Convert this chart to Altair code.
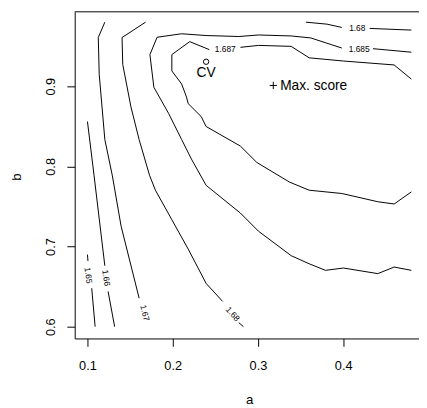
import altair as alt
import pandas as pd

# ---- contour segments (a, b), broken where the level labels sit ----
c165_s1_a = [0.100, 0.1006]
c165_s1_b = [0.690, 0.682]
c165_s2_a = [0.105, 0.109]
c165_s2_b = [0.648, 0.600]

c166_s1_a = [0.100, 0.1077, 0.1204]
c166_s1_b = [0.856, 0.789, 0.676]
c166_s2_a = [0.1242, 0.1319]
c166_s2_b = [0.644, 0.600]

c167_a = [0.1204, 0.1127, 0.1138, 0.1204, 0.1291, 0.1395, 0.1606]
c167_b = [0.980, 0.9608, 0.915, 0.8335, 0.789, 0.7253, 0.6356]

c168_s1_a = [0.1682, 0.1406, 0.1414, 0.151, 0.1606, 0.1728, 0.1797, 0.199, 0.2182, 0.2392, 0.2585]
c168_s1_b = [0.980, 0.9608, 0.9273, 0.8743, 0.8335, 0.789, 0.7703, 0.7335, 0.6968, 0.654, 0.6316]
c168_s2_a = [0.2776, 0.283]
c168_s2_b = [0.605, 0.600]
c168_top1_a = [0.3563, 0.3811, 0.3984]
c168_top1_b = [0.980, 0.9775, 0.9734]
c168_top2_a = [0.4311, 0.480]
c168_top2_b = [0.9722, 0.9701]

c1685_s1_a = [0.480, 0.4349]
c1685_s1_b = [0.9425, 0.9469]
c1685_s2_a = [0.3984, 0.362, 0.339, 0.3006, 0.2776, 0.2392, 0.2105, 0.1817, 0.1733, 0.1779,
              0.1952, 0.2105, 0.222, 0.2392, 0.2795, 0.3006, 0.339, 0.3601, 0.3793, 0.4003,
              0.4406, 0.4598, 0.480]
c1685_s2_b = [0.9477, 0.9603, 0.9628, 0.964, 0.9621, 0.9633, 0.9655, 0.9612, 0.9395, 0.8988,
              0.8661, 0.8335, 0.8091, 0.7764, 0.7417, 0.7192, 0.6886, 0.6785, 0.6703, 0.6732,
              0.6662, 0.6744, 0.6703]

c1687_s1_a = [0.480, 0.4598, 0.4003, 0.3601, 0.339, 0.3006, 0.2795]
c1687_s1_b = [0.9089, 0.9266, 0.9315, 0.9355, 0.9498, 0.951, 0.9486]
c1687_s2_a = [0.2430, 0.220, 0.199, 0.199, 0.2105, 0.2162, 0.2182, 0.2335, 0.2392, 0.2795,
              0.2987, 0.3371, 0.3601, 0.3984, 0.4406, 0.4598, 0.480]
c1687_s2_b = [0.9457, 0.9557, 0.9395, 0.9192, 0.9028, 0.8865, 0.8783, 0.8621, 0.8498, 0.8253,
              0.8049, 0.7804, 0.7703, 0.7662, 0.7559, 0.7531, 0.7682]

# ---- contour level labels ----
label_text = ["1.65", "1.66", "1.67", "1.68", "1.68", "1.685", "1.687"]
label_a = [0.1012, 0.1222, 0.1675, 0.2707, 0.4165, 0.4188, 0.2617]
label_b = [0.664, 0.661, 0.6173, 0.616, 0.9722, 0.9465, 0.9465]
label_angle = [83, 82, 76, 48, 0, 0, 0]

# ---- marked points ----
cv_a, cv_b = [0.2392], [0.9306]
max_a, max_b = [0.318], [0.901]

x_ticks = [0.1, 0.2, 0.3, 0.4]
y_ticks = [0.6, 0.7, 0.8, 0.9]

segs = {
    "c165_1": (c165_s1_a, c165_s1_b), "c165_2": (c165_s2_a, c165_s2_b),
    "c166_1": (c166_s1_a, c166_s1_b), "c166_2": (c166_s2_a, c166_s2_b),
    "c167": (c167_a, c167_b),
    "c168_1": (c168_s1_a, c168_s1_b), "c168_2": (c168_s2_a, c168_s2_b),
    "c168_t1": (c168_top1_a, c168_top1_b), "c168_t2": (c168_top2_a, c168_top2_b),
    "c1685_1": (c1685_s1_a, c1685_s1_b), "c1685_2": (c1685_s2_a, c1685_s2_b),
    "c1687_1": (c1687_s1_a, c1687_s1_b), "c1687_2": (c1687_s2_a, c1687_s2_b),
}
rows = []
for name, (xs, ys) in segs.items():
    for i, (xa, yb) in enumerate(zip(xs, ys)):
        rows.append({"seg": name, "i": i, "a": xa, "b": yb})
lines_df = pd.DataFrame(rows)
labels_df = pd.DataFrame({"t": label_text, "a": label_a, "b": label_b, "ang": label_angle})
cv_df = pd.DataFrame({"a": cv_a, "b": cv_b, "t": ["CV"]})
max_df = pd.DataFrame({"a": max_a, "b": max_b, "t": ["Max. score"]})

W, H = 351, 333
FONT = "Liberation Sans"

x_enc = alt.X("a:Q", scale=alt.Scale(domain=[0.08504, 0.48895], nice=False, zero=False),
              axis=alt.Axis(values=x_ticks, format=".1f", title="a", tickSize=8,
                            labelPadding=24, labelBaseline="alphabetic",
                            titleX=178, titleY=66, titleBaseline="alphabetic",
                            titleAlign="center"))
y_enc = alt.Y("b:Q", scale=alt.Scale(domain=[0.5853, 0.9929], nice=False, zero=False),
              axis=alt.Axis(values=y_ticks, format=".1f", title="b", tickSize=8,
                            labelAngle=270, labelAlign="center", labelBaseline="alphabetic",
                            labelPadding=13, titleAngle=270, titleX=-55, titleY=168,
                            titleAlign="center", titleBaseline="alphabetic"))

lines = alt.Chart(lines_df).mark_line(color="black", strokeWidth=1).encode(
    x=x_enc, y=y_enc, detail="seg:N", order="i:Q")

labels = alt.Chart(labels_df).mark_text(fontSize=8.5, font=FONT, color="black",
                                        align="center", baseline="middle").encode(
    x=x_enc, y=y_enc, text="t:N", angle=alt.Angle("ang:Q", scale=None))

cv_pt = alt.Chart(cv_df).mark_point(shape="circle", filled=False, size=30, color="black",
                                    strokeWidth=1, opacity=1).encode(x=x_enc, y=y_enc)
cv_txt = alt.Chart(cv_df).mark_text(fontSize=14, font=FONT, color="black", align="center",
                                    baseline="alphabetic", dy=16).encode(x=x_enc, y=y_enc, text="t:N")
max_pt = alt.Chart(max_df).mark_point(shape="M-1,0L1,0M0,-1L0,1", filled=False, size=55,
                                      color="black", strokeWidth=1, opacity=1).encode(x=x_enc, y=y_enc)
max_txt = alt.Chart(max_df).mark_text(fontSize=14, font=FONT, color="black", align="left",
                                      baseline="alphabetic", dx=7, dy=5).encode(x=x_enc, y=y_enc, text="t:N")

top_rule = alt.Chart(pd.DataFrame({"z": [0]})).mark_rule(color="black", strokeWidth=1).encode(
    x=alt.value(0), x2=alt.value(W), y=alt.value(0))

chart = alt.layer(lines, labels, cv_pt, cv_txt, max_pt, max_txt, top_rule).properties(
    width=W, height=H,
    autosize=alt.AutoSizeParams(type="none"),
    padding={"left": 68, "top": 0, "right": 0, "bottom": 67},
).configure_view(stroke=None).configure_axis(
    grid=False, domainColor="black", tickColor="black", labelColor="black",
    titleColor="black", labelFont=FONT, titleFont=FONT, labelFontSize=13,
    titleFontSize=13.5, titleFontWeight="normal", domainWidth=1, tickWidth=1,
)

chart.save("out.html", embed_options={"renderer": "svg", "actions": False})
